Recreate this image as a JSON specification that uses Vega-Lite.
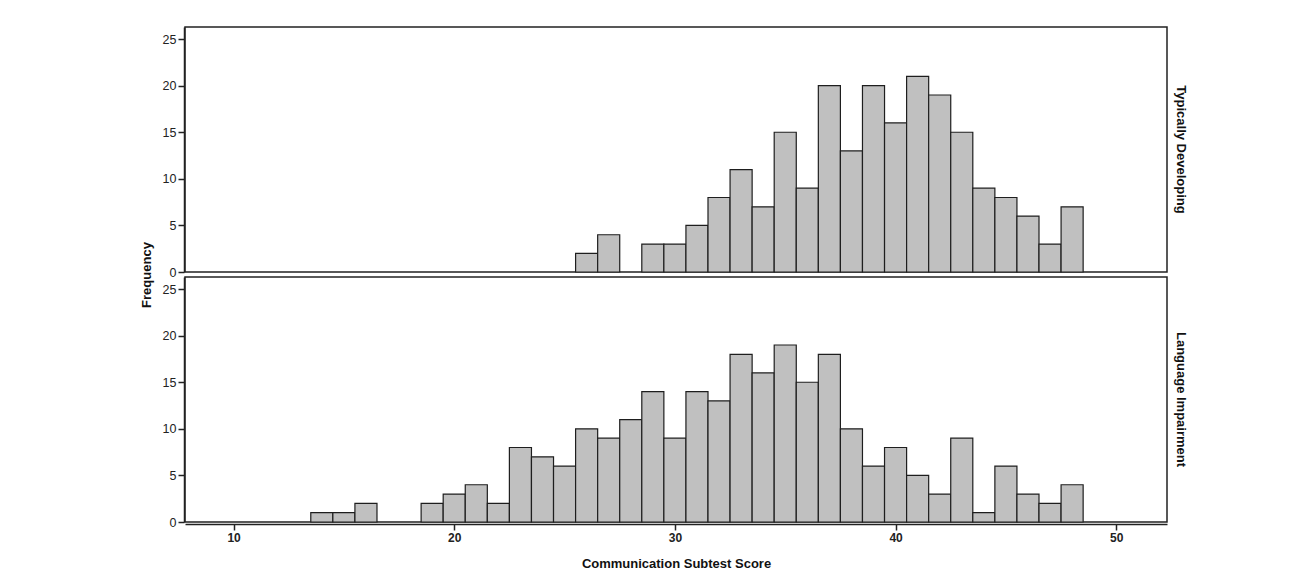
{
  "$schema": "https://vega.github.io/schema/vega-lite/v6.json",
  "padding": {"left": 140, "top": 26, "right": 5, "bottom": 5},
  "background": "white",
  "datasets": {
    "scores": [
      {"group": "Typically Developing", "score": 26, "from": 25.5, "to": 26.5, "frequency": 2},
      {"group": "Typically Developing", "score": 27, "from": 26.5, "to": 27.5, "frequency": 4},
      {"group": "Typically Developing", "score": 29, "from": 28.5, "to": 29.5, "frequency": 3},
      {"group": "Typically Developing", "score": 30, "from": 29.5, "to": 30.5, "frequency": 3},
      {"group": "Typically Developing", "score": 31, "from": 30.5, "to": 31.5, "frequency": 5},
      {"group": "Typically Developing", "score": 32, "from": 31.5, "to": 32.5, "frequency": 8},
      {"group": "Typically Developing", "score": 33, "from": 32.5, "to": 33.5, "frequency": 11},
      {"group": "Typically Developing", "score": 34, "from": 33.5, "to": 34.5, "frequency": 7},
      {"group": "Typically Developing", "score": 35, "from": 34.5, "to": 35.5, "frequency": 15},
      {"group": "Typically Developing", "score": 36, "from": 35.5, "to": 36.5, "frequency": 9},
      {"group": "Typically Developing", "score": 37, "from": 36.5, "to": 37.5, "frequency": 20},
      {"group": "Typically Developing", "score": 38, "from": 37.5, "to": 38.5, "frequency": 13},
      {"group": "Typically Developing", "score": 39, "from": 38.5, "to": 39.5, "frequency": 20},
      {"group": "Typically Developing", "score": 40, "from": 39.5, "to": 40.5, "frequency": 16},
      {"group": "Typically Developing", "score": 41, "from": 40.5, "to": 41.5, "frequency": 21},
      {"group": "Typically Developing", "score": 42, "from": 41.5, "to": 42.5, "frequency": 19},
      {"group": "Typically Developing", "score": 43, "from": 42.5, "to": 43.5, "frequency": 15},
      {"group": "Typically Developing", "score": 44, "from": 43.5, "to": 44.5, "frequency": 9},
      {"group": "Typically Developing", "score": 45, "from": 44.5, "to": 45.5, "frequency": 8},
      {"group": "Typically Developing", "score": 46, "from": 45.5, "to": 46.5, "frequency": 6},
      {"group": "Typically Developing", "score": 47, "from": 46.5, "to": 47.5, "frequency": 3},
      {"group": "Typically Developing", "score": 48, "from": 47.5, "to": 48.5, "frequency": 7},
      {"group": "Language Impairment", "score": 14, "from": 13.5, "to": 14.5, "frequency": 1},
      {"group": "Language Impairment", "score": 15, "from": 14.5, "to": 15.5, "frequency": 1},
      {"group": "Language Impairment", "score": 16, "from": 15.5, "to": 16.5, "frequency": 2},
      {"group": "Language Impairment", "score": 19, "from": 18.5, "to": 19.5, "frequency": 2},
      {"group": "Language Impairment", "score": 20, "from": 19.5, "to": 20.5, "frequency": 3},
      {"group": "Language Impairment", "score": 21, "from": 20.5, "to": 21.5, "frequency": 4},
      {"group": "Language Impairment", "score": 22, "from": 21.5, "to": 22.5, "frequency": 2},
      {"group": "Language Impairment", "score": 23, "from": 22.5, "to": 23.5, "frequency": 8},
      {"group": "Language Impairment", "score": 24, "from": 23.5, "to": 24.5, "frequency": 7},
      {"group": "Language Impairment", "score": 25, "from": 24.5, "to": 25.5, "frequency": 6},
      {"group": "Language Impairment", "score": 26, "from": 25.5, "to": 26.5, "frequency": 10},
      {"group": "Language Impairment", "score": 27, "from": 26.5, "to": 27.5, "frequency": 9},
      {"group": "Language Impairment", "score": 28, "from": 27.5, "to": 28.5, "frequency": 11},
      {"group": "Language Impairment", "score": 29, "from": 28.5, "to": 29.5, "frequency": 14},
      {"group": "Language Impairment", "score": 30, "from": 29.5, "to": 30.5, "frequency": 9},
      {"group": "Language Impairment", "score": 31, "from": 30.5, "to": 31.5, "frequency": 14},
      {"group": "Language Impairment", "score": 32, "from": 31.5, "to": 32.5, "frequency": 13},
      {"group": "Language Impairment", "score": 33, "from": 32.5, "to": 33.5, "frequency": 18},
      {"group": "Language Impairment", "score": 34, "from": 33.5, "to": 34.5, "frequency": 16},
      {"group": "Language Impairment", "score": 35, "from": 34.5, "to": 35.5, "frequency": 19},
      {"group": "Language Impairment", "score": 36, "from": 35.5, "to": 36.5, "frequency": 15},
      {"group": "Language Impairment", "score": 37, "from": 36.5, "to": 37.5, "frequency": 18},
      {"group": "Language Impairment", "score": 38, "from": 37.5, "to": 38.5, "frequency": 10},
      {"group": "Language Impairment", "score": 39, "from": 38.5, "to": 39.5, "frequency": 6},
      {"group": "Language Impairment", "score": 40, "from": 39.5, "to": 40.5, "frequency": 8},
      {"group": "Language Impairment", "score": 41, "from": 40.5, "to": 41.5, "frequency": 5},
      {"group": "Language Impairment", "score": 42, "from": 41.5, "to": 42.5, "frequency": 3},
      {"group": "Language Impairment", "score": 43, "from": 42.5, "to": 43.5, "frequency": 9},
      {"group": "Language Impairment", "score": 44, "from": 43.5, "to": 44.5, "frequency": 1},
      {"group": "Language Impairment", "score": 45, "from": 44.5, "to": 45.5, "frequency": 6},
      {"group": "Language Impairment", "score": 46, "from": 45.5, "to": 46.5, "frequency": 3},
      {"group": "Language Impairment", "score": 47, "from": 46.5, "to": 47.5, "frequency": 2},
      {"group": "Language Impairment", "score": 48, "from": 47.5, "to": 48.5, "frequency": 4}
    ]
  },
  "data": {"name": "scores"},
  "facet": {
    "row": {
      "field": "group",
      "type": "nominal",
      "sort": ["Typically Developing", "Language Impairment"],
      "title": "Frequency",
      "header": {
        "titleOrient": "left",
        "titleAngle": -90,
        "titleFont": "Liberation Sans",
        "titleFontSize": 13,
        "titleFontWeight": "bold",
        "titleColor": "#111",
        "titlePadding": -15,
        "labelOrient": "right",
        "labelAngle": 90,
        "labelAlign": "center",
        "labelFont": "Liberation Sans",
        "labelFontSize": 13,
        "labelFontWeight": "bold",
        "labelColor": "#111",
        "labelPadding": 6
      }
    }
  },
  "spacing": 2,
  "spec": {
    "width": 982,
    "height": 245,
    "mark": {"type": "bar", "fill": "#c0c0c0", "stroke": "#1e1e1e", "strokeWidth": 1.2},
    "encoding": {
      "x": {
        "field": "from",
        "type": "quantitative",
        "title": "Communication Subtest Score",
        "scale": {"domain": [7.8, 52.3], "nice": false, "zero": false},
        "axis": {
          "values": [10, 20, 30, 40, 50],
          "labelFontWeight": "bold",
          "labelFontSize": 12,
          "titlePadding": 14
        }
      },
      "x2": {"field": "to"},
      "y": {
        "field": "frequency",
        "type": "quantitative",
        "title": null,
        "scale": {"domain": [0, 26.3], "nice": false},
        "axis": {"values": [0, 5, 10, 15, 20, 25]}
      },
      "y2": {"datum": 0}
    }
  },
  "config": {
    "font": "Liberation Sans",
    "view": {"stroke": "#222", "strokeWidth": 1.5},
    "axis": {
      "grid": false,
      "domainColor": "#222",
      "domainWidth": 1.5,
      "tickColor": "#222",
      "tickWidth": 1.5,
      "tickSize": 6,
      "labelFont": "Liberation Sans",
      "labelFontSize": 12.5,
      "labelColor": "#222",
      "labelPadding": 2,
      "titleFont": "Liberation Sans",
      "titleFontSize": 13,
      "titleFontWeight": "bold",
      "titleColor": "#111"
    }
  }
}
